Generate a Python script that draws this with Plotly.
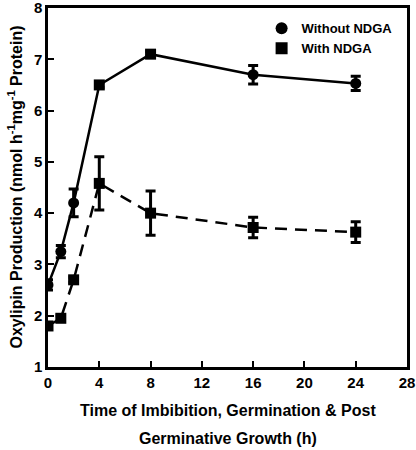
import plotly.graph_objects as go

time_h = [0, 1, 2, 4, 8, 16, 24]
without_ndga = [2.6, 3.25, 4.2, 6.5, 7.1, 6.7, 6.53]
without_err = [0.1, 0.12, 0.27, 0.05, 0.05, 0.18, 0.14]
with_ndga = [1.8, 1.95, 2.7, 4.58, 4.0, 3.72, 3.63]
with_err = [0.05, 0.05, 0.05, 0.52, 0.43, 0.2, 0.2]
without_symbols = ["circle", "circle", "circle", "square", "square", "circle", "circle"]

x_ticks = [0, 4, 8, 12, 16, 20, 24, 28]
y_ticks = [1, 2, 3, 4, 5, 6, 7, 8]

FONT = "Liberation Sans, Arial, sans-serif"

fig = go.Figure()
fig.add_trace(go.Scatter(
    x=time_h, y=with_ndga, name="With NDGA", mode="lines+markers",
    line=dict(color="black", width=2.5, dash="12px,8px"),
    marker=dict(symbol="square", size=11, color="black"),
    error_y=dict(type="data", array=with_err, color="black", thickness=3, width=5),
    showlegend=False,
))
fig.add_trace(go.Scatter(
    x=time_h, y=without_ndga, name="Without NDGA", mode="lines+markers",
    line=dict(color="black", width=2.5),
    marker=dict(symbol=without_symbols, size=11, color="black"),
    error_y=dict(type="data", array=without_err, color="black", thickness=3, width=5),
    showlegend=False,
))
# legend entries
fig.add_trace(go.Scatter(x=[None], y=[None], name="Without NDGA", mode="markers",
                         marker=dict(symbol="circle", size=12, color="black")))
fig.add_trace(go.Scatter(x=[None], y=[None], name="With NDGA", mode="markers",
                         marker=dict(symbol="square", size=12, color="black")))

fig.update_layout(
    width=416, height=450,
    margin=dict(l=48, r=9, t=8, b=83, autoexpand=False),
    paper_bgcolor="white", plot_bgcolor="white",
    font=dict(family=FONT, color="black", size=13),
    legend=dict(x=0.595, y=0.985, xanchor="left", yanchor="top",
                bgcolor="rgba(0,0,0,0)", font=dict(size=13, family=FONT, weight="bold"),
                itemwidth=30, tracegroupgap=0),
    showlegend=True,
)
fig.update_xaxes(
    range=[0, 28], tickvals=x_ticks, ticktext=[str(v) for v in x_ticks],
    ticks="inside", ticklen=6, tickwidth=2, tickcolor="black",
    showline=True, linecolor="black", linewidth=2.5, mirror=True,
    showgrid=False, zeroline=False, automargin=False, ticklabeloverflow="allow",
    tickfont=dict(size=15, family=FONT, weight="bold"),
)
fig.update_yaxes(
    range=[1, 8], tickvals=y_ticks, ticktext=[str(v) for v in y_ticks],
    ticks="inside", ticklen=6, tickwidth=2, tickcolor="black",
    showline=True, linecolor="black", linewidth=2.5, mirror=True,
    showgrid=False, zeroline=False, automargin=False, ticklabeloverflow="allow",
    tickfont=dict(size=15, family=FONT, weight="bold"),
)
fig.add_annotation(
    text="Time of Imbibition, Germination & Post", xref="paper", yref="paper",
    x=0.5, y=0, yshift=-43, showarrow=False, xanchor="center", yanchor="middle",
    font=dict(size=16, family=FONT, weight="bold"),
)
fig.add_annotation(
    text="Germinative Growth (h)", xref="paper", yref="paper",
    x=0.5, y=0, yshift=-71, showarrow=False, xanchor="center", yanchor="middle",
    font=dict(size=16, family=FONT, weight="bold"),
)
fig.add_annotation(
    text="Oxylipin Production (nmol h<sup>-1</sup>mg<sup>-1</sup> Protein)",
    xref="paper", yref="paper", x=0, xshift=-33, y=0.5,
    showarrow=False, textangle=-90, xanchor="center", yanchor="middle",
    font=dict(size=16, family=FONT, weight="bold"),
)

fig.write_html("out.html", config={"displayModeBar": False},
               post_script="document.body.style.margin='0';")
